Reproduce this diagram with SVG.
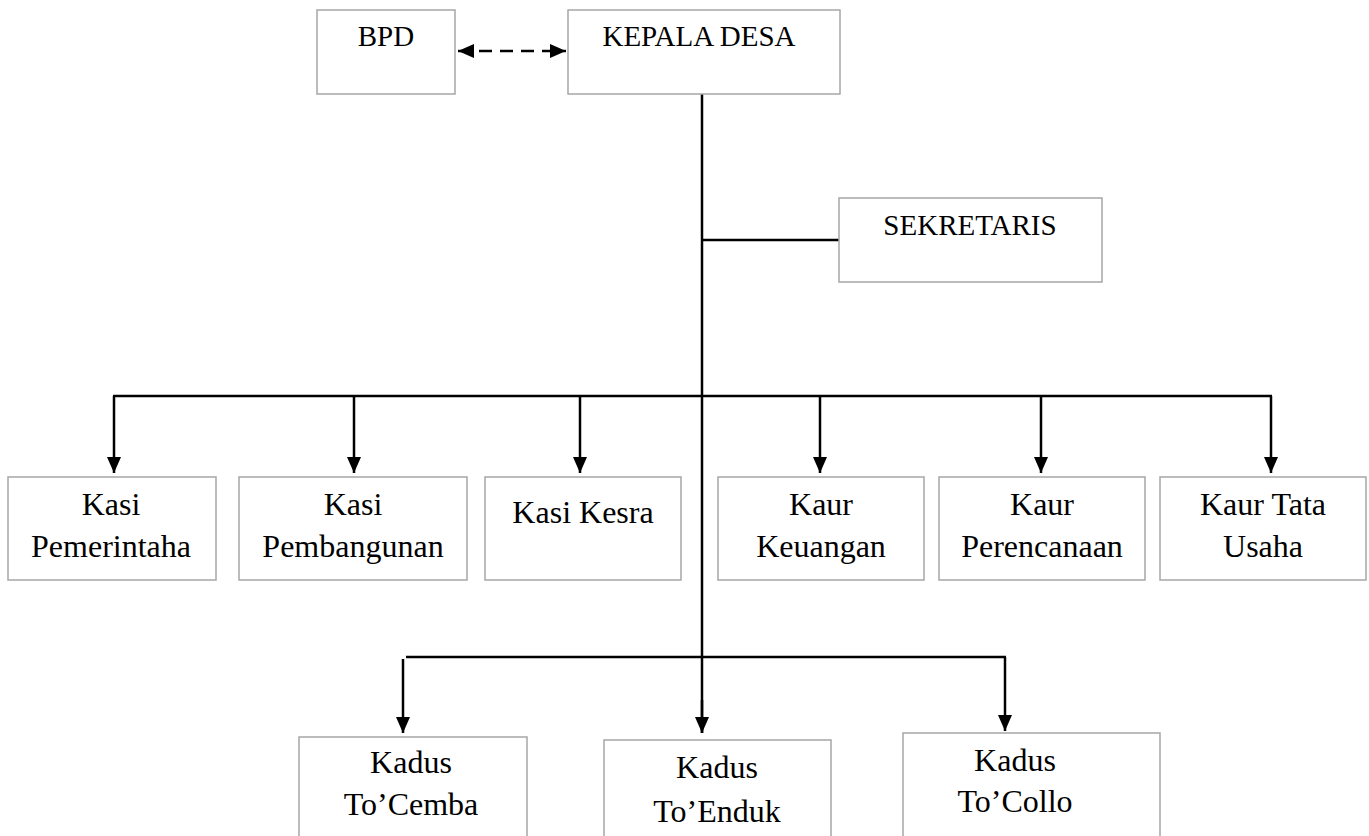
<svg xmlns="http://www.w3.org/2000/svg" width="1369" height="836" viewBox="0 0 1369 836">
<style>
.box{fill:#fff;stroke:#a6a6a6;stroke-width:1.5}
text{font-family:'Liberation Serif','Times New Roman','DejaVu Serif',serif;fill:#000;text-anchor:middle}
.top{font-size:29px}
.row{font-size:32px}
.ln{stroke:#000;stroke-width:2.5;fill:none}
.arr{marker-end:url(#ah)}
</style>
<defs>
<marker id="ah" markerUnits="userSpaceOnUse" markerWidth="16" markerHeight="16" viewBox="0 0 16 14" refX="16" refY="7" orient="auto-start-reverse">
<path d="M0,0 L16,7 L0,14 Z" fill="#000"/>
</marker>
</defs>
<rect width="1369" height="836" fill="#fff"/>
<g id="connectors">
<line class="ln" x1="458" y1="51" x2="566" y2="51" stroke-dasharray="13 8" marker-start="url(#ah)" marker-end="url(#ah)"/>
<line class="ln" x1="702" y1="94" x2="702" y2="733"/>
<line class="ln" x1="702" y1="240" x2="839" y2="240"/>
<line class="ln" x1="113" y1="396" x2="1272" y2="396"/>
<line class="ln arr" x1="114" y1="396" x2="114" y2="473"/>
<line class="ln arr" x1="354" y1="396" x2="354" y2="473"/>
<line class="ln arr" x1="580" y1="396" x2="580" y2="473"/>
<line class="ln arr" x1="820" y1="396" x2="820" y2="473"/>
<line class="ln arr" x1="1041" y1="396" x2="1041" y2="473"/>
<line class="ln arr" x1="1271" y1="396" x2="1271" y2="473"/>
<line class="ln" x1="406" y1="657" x2="1006" y2="657"/>
<line class="ln arr" x1="403" y1="659" x2="403" y2="733"/>
<line class="ln arr" x1="702" y1="700" x2="702" y2="733"/>
<line class="ln arr" x1="1005" y1="657" x2="1005" y2="731"/>
</g>
<g id="bpd"><rect class="box" x="317" y="10" width="138" height="84"/><text class="top" x="386" y="46">BPD</text></g>
<g id="kepala-desa"><rect class="box" x="568" y="10" width="272" height="84"/><text class="top" x="699" y="46">KEPALA DESA</text></g>
<g id="sekretaris"><rect class="box" x="839" y="198" width="263" height="84"/><text class="top" x="970" y="235">SEKRETARIS</text></g>
<g id="kasi-pemerintaha"><rect class="box" x="8" y="477" width="208" height="103"/><text class="row" x="111" y="515">Kasi</text><text class="row" x="111" y="557">Pemerintaha</text></g>
<g id="kasi-pembangunan"><rect class="box" x="239" y="477" width="228" height="103"/><text class="row" x="353" y="515">Kasi</text><text class="row" x="353" y="557">Pembangunan</text></g>
<g id="kasi-kesra"><rect class="box" x="485" y="477" width="196" height="103"/><text class="row" x="583" y="523">Kasi Kesra</text></g>
<g id="kaur-keuangan"><rect class="box" x="718" y="477" width="206" height="103"/><text class="row" x="821" y="515">Kaur</text><text class="row" x="821" y="557">Keuangan</text></g>
<g id="kaur-perencanaan"><rect class="box" x="939" y="477" width="206" height="103"/><text class="row" x="1042" y="515">Kaur</text><text class="row" x="1042" y="557">Perencanaan</text></g>
<g id="kaur-tata-usaha"><rect class="box" x="1160" y="477" width="206" height="103"/><text class="row" x="1263" y="515">Kaur Tata</text><text class="row" x="1263" y="557">Usaha</text></g>
<g id="kadus-tocemba"><rect class="box" x="299" y="737" width="228" height="110"/><text class="row" x="411" y="773">Kadus</text><text class="row" x="411" y="815">To’Cemba</text></g>
<g id="kadus-toenduk"><rect class="box" x="604" y="740" width="227" height="110"/><text class="row" x="717" y="778">Kadus</text><text class="row" x="717" y="822">To’Enduk</text></g>
<g id="kadus-tocollo"><rect class="box" x="903" y="733" width="257" height="110"/><text class="row" x="1015" y="771">Kadus</text><text class="row" x="1015" y="812">To’Collo</text></g>
</svg>
